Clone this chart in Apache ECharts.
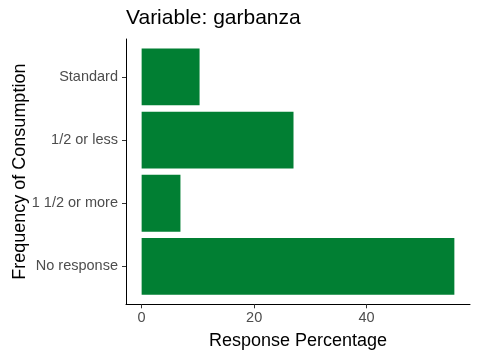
<!DOCTYPE html>
<html>
<head>
<meta charset="utf-8">
<script src="https://cdn.jsdelivr.net/npm/echarts@6/dist/echarts.min.js"></script>
<style>
html,body{margin:0;padding:0;background:#fff;}
#chart{width:480px;height:360px;}
</style>
</head>
<body>
<div id="chart"></div>
<script>
// Data (top to bottom as in the reference)
var categories = ["Standard", "1/2 or less", "1 1/2 or more", "No response"];
var values = [10.3, 27.0, 6.9, 55.6];
var xTicks = [0, 20, 40];
var titleText = "Variable: garbanza";
var xTitle = "Response Percentage";
var yTitle = "Frequency of Consumption";

var catsBottomUp = categories.slice().reverse();
var valsBottomUp = values.slice().reverse();
var maxVal = Math.max.apply(null, values);
var xMin = -0.05 * maxVal, xMax = maxVal * 1.05;

var FONT = "Liberation Sans, Arial, sans-serif";
var chart = echarts.init(document.getElementById('chart'), null, {renderer: 'canvas'});
chart.setOption({
  backgroundColor: '#ffffff',
  animation: false,
  title: {
    text: titleText, left: 126, top: 8, padding: 0,
    textStyle: {fontFamily: FONT, fontSize: 21, fontWeight: 'normal', color: '#000'}
  },
  grid: [
    {left: 126, right: 10, top: 45.3, bottom: 62, outerBoundsMode: 'none', containLabel: false},
    {left: 126, right: 10, top: 39, bottom: 55.7, outerBoundsMode: 'none', containLabel: false}
  ],
  xAxis: [
    {gridIndex: 0, type: 'value', min: xMin, max: xMax, show: false},
    {gridIndex: 1, type: 'value', min: xMin, max: xMax,
     axisLine: {show: true, onZero: false, lineStyle: {color: '#000', width: 1}},
     axisTick: {show: true, length: 4, customValues: xTicks, lineStyle: {color: '#333'}},
     axisLabel: {show: true, customValues: xTicks, margin: 6, color: '#4D4D4D', fontSize: 14.5, fontFamily: FONT},
     splitLine: {show: false},
     name: xTitle, nameLocation: 'middle', nameGap: 28,
     nameTextStyle: {fontFamily: FONT, fontSize: 18, color: '#000'}}
  ],
  yAxis: [
    {gridIndex: 0, type: 'category', data: catsBottomUp,
     axisLine: {show: false, onZero: false},
     axisTick: {show: true, length: 4, alignWithLabel: true, lineStyle: {color: '#333'}},
     axisLabel: {margin: 8, color: '#4D4D4D', fontSize: 14.5, fontFamily: FONT},
     splitLine: {show: false}},
    {gridIndex: 1, type: 'value', min: 0, max: 1,
     axisLine: {show: true, onZero: false, lineStyle: {color: '#000', width: 1}},
     axisTick: {show: false}, axisLabel: {show: false}, splitLine: {show: false},
     name: yTitle, nameLocation: 'middle', nameRotate: 90, nameGap: 97,
     nameTextStyle: {fontFamily: FONT, fontSize: 18, color: '#000'}}
  ],
  series: [{
    type: 'bar', xAxisIndex: 0, yAxisIndex: 0,
    data: valsBottomUp, barWidth: '90%',
    itemStyle: {color: '#017F33'}
  }]
});
</script>
</body>
</html>
